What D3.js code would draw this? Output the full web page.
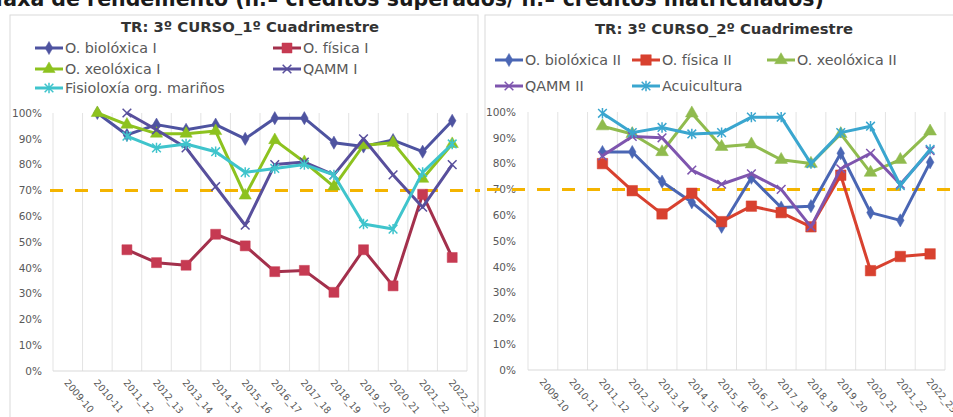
<!DOCTYPE html>
<html><head><meta charset="utf-8">
<script src="https://cdn.jsdelivr.net/npm/d3@7"></script>
<style>
body{margin:0;background:#fff;}
svg{display:block;font-family:"DejaVu Sans",sans-serif;}
</style></head>
<body><svg id="c" width="953" height="417"></svg>
<script>
const categories = ["2009-10","2010-11","2011_12","2012_13","2013_14","2014_15","2015_16","2016_17","2017_18","2018_19","2019_20","2020_21","2021_22","2022_23"];
const yTicks = [0,10,20,30,40,50,60,70,80,90,100];
const threshold = 70;

// Panel 1: 1º Cuadrimestre
const title1 = "TR: 3º CURSO_1º Cuadrimestre";
const bio1   = [null,100,91.5,95.5,93.5,95.5,90,98,98,88.5,87,89.5,85,97];
const fis1   = [null,null,47,42,41,53,48.5,38.5,39,30.5,47,33,68.5,44];
const xeo1   = [null,100,95.5,92,92,93,68,89.5,81,71.5,87.5,88.5,74.5,88];
const qamm1  = [null,null,100,93.5,86.5,71.5,56.5,80,81,76,90,76,63.5,80];
const fisio1 = [null,null,91,86.5,88,85,77,78.5,80,76,57,55,77,88];

// Panel 2: 2º Cuadrimestre
const title2 = "TR: 3º CURSO_2º Cuadrimestre";
const bio2  = [null,null,84.5,84.5,73,65,55.5,74.5,63,63.5,84,61,58,80.5];
const fis2  = [null,null,80,69.5,60.5,68.5,57.5,63.5,61,55.5,75.5,38.5,44,45];
const xeo2  = [null,null,94.5,91.5,84.5,99.5,86.5,87.5,81.5,80,91.5,76.5,81.5,92.5];
const qamm2 = [null,null,83,90.5,90,77.5,72,76,70,55.5,78,84,72,85];
const acui  = [null,null,99.5,92,94,91.5,92,98,98,80,92,94.5,71.5,85.5];

const headText = "Taxa de rendemento (n.º créditos superados/ n.º créditos matriculados)";

// custom marker shapes
const symTimes = {draw(ctx,size){const r=Math.sqrt(size)/2;ctx.moveTo(-r,-r);ctx.lineTo(r,r);ctx.moveTo(r,-r);ctx.lineTo(-r,r);}};
const symAst = {draw(ctx,size){const r=Math.sqrt(size)/2;ctx.moveTo(-r,-r);ctx.lineTo(r,r);ctx.moveTo(r,-r);ctx.lineTo(-r,r);ctx.moveTo(0,-r*1.2);ctx.lineTo(0,r*1.2);}};

const panels = [
  {title:title1, box:[10,15,468,410], plot:{x0:53,x1:467,y0:371,y1:113}, tickRight:42, titleXY:[250,32], dash:[50,480],
   series:[
     {name:"O. biolóxica I", data:bio1, color:"#4E53A0", fill:"#4E53A0", sym:d3.symbolDiamond, size:50, stroke:false, leg:[35,48]},
     {name:"O. física I", data:fis1, color:"#A3304C", fill:"#C63A52", sym:d3.symbolSquare, size:100, stroke:false, leg:[273,48]},
     {name:"O. xeolóxica I", data:xeo1, color:"#8DC21F", fill:"#8DC21F", sym:d3.symbolTriangle, size:65, stroke:false, leg:[35,69]},
     {name:"QAMM I", data:qamm1, color:"#584F9C", fill:"none", sym:symTimes, size:75, stroke:true, leg:[273,69]},
     {name:"Fisioloxía org. mariños", data:fisio1, color:"#3FC4CC", fill:"none", sym:symAst, size:75, stroke:true, leg:[35,88]}
   ]},
  {title:title2, box:[485,15,470,410], plot:{x0:528,x1:945,y0:370,y1:112}, tickRight:516, titleXY:[724,34], dash:[487,953],
   series:[
     {name:"O. biolóxica II", data:bio2, color:"#4A66B4", fill:"#4A66B4", sym:d3.symbolDiamond, size:50, stroke:false, leg:[495,60]},
     {name:"O. física II", data:fis2, color:"#D8412F", fill:"#D8412F", sym:d3.symbolSquare, size:110, stroke:false, leg:[632,60]},
     {name:"O. xeolóxica II", data:xeo2, color:"#90BB4E", fill:"#90BB4E", sym:d3.symbolTriangle, size:70, stroke:false, leg:[767,60]},
     {name:"QAMM II", data:qamm2, color:"#7E55AE", fill:"none", sym:symTimes, size:75, stroke:true, leg:[495,86]},
     {name:"Acuicultura", data:acui, color:"#3AA6CF", fill:"none", sym:symAst, size:75, stroke:true, leg:[632,86]}
   ]}
];

const svg = d3.select("#c");

// cut-off heading at the very top
svg.append("text").attr("x",-8).attr("y",6).attr("font-size",20.5).attr("font-weight","bold")
  .attr("fill","#1a1a1a").text(headText);

panels.forEach(p=>{
  const g = svg.append("g");
  g.append("rect").attr("x",p.box[0]).attr("y",p.box[1]).attr("width",p.box[2]).attr("height",p.box[3])
    .attr("fill","#fff").attr("stroke","#D9D9D9").attr("stroke-width",1);

  const x = d3.scaleBand().domain(categories).range([p.plot.x0,p.plot.x1]).padding(0);
  const y = d3.scaleLinear().domain([0,100]).range([p.plot.y0,p.plot.y1]);

  // vertical gridlines at category boundaries
  const bounds = categories.map(c=>x(c)).concat([x(categories[categories.length-1])+x.bandwidth()]);
  g.selectAll(".vg").data(bounds).join("line")
    .attr("x1",d=>d).attr("x2",d=>d).attr("y1",y(100)).attr("y2",y(0))
    .attr("stroke","#E3E3E3").attr("stroke-width",1);

  // x axis baseline
  g.append("line").attr("x1",p.plot.x0).attr("x2",p.plot.x1).attr("y1",y(0)).attr("y2",y(0))
    .attr("stroke","#D9D9D9").attr("stroke-width",1);

  // y axis
  const ya = g.append("g").attr("transform",`translate(${p.tickRight},0)`)
    .call(d3.axisLeft(y).tickValues(yTicks).tickSize(0).tickPadding(0).tickFormat(d=>d+"%"));
  ya.select(".domain").remove();
  ya.selectAll("text").attr("font-size",10.5).attr("fill","#595959").attr("font-family","DejaVu Sans,sans-serif");

  // x axis labels
  const xa = g.append("g").attr("transform",`translate(0,${y(0)})`)
    .call(d3.axisBottom(x).tickSize(0).tickPadding(0));
  xa.select(".domain").remove();
  xa.selectAll("text").attr("font-size",9.5).attr("fill","#595959")
    .attr("font-family","DejaVu Sans,sans-serif")
    .attr("text-anchor","start").attr("dy",0)
    .attr("transform","translate(-4,12) rotate(50)");

  // threshold dashed line
  g.append("line").attr("x1",p.dash[0]).attr("x2",p.dash[1]).attr("y1",y(threshold)).attr("y2",y(threshold))
    .attr("stroke","#F4B400").attr("stroke-width",3).attr("stroke-dasharray","13,12");

  // series
  const cx = i=>x(categories[i])+x.bandwidth()/2;
  p.series.forEach(s=>{
    const pts = s.data.map((v,i)=>({i,v})).filter(d=>d.v!=null);
    const line = d3.line().x(d=>cx(d.i)).y(d=>y(d.v));
    g.append("path").datum(pts).attr("d",line).attr("fill","none")
      .attr("stroke",s.color).attr("stroke-width",3).attr("stroke-linejoin","round");
    const sym = d3.symbol().type(s.sym).size(s.size);
    g.selectAll(null).data(pts).join("path")
      .attr("d",sym).attr("transform",d=>`translate(${cx(d.i)},${y(d.v)})`)
      .attr("fill",s.stroke?"none":s.fill).attr("stroke",s.stroke?s.color:(s.fill))
      .attr("stroke-width",s.stroke?1.5:0.5);
  });

  // title
  g.append("text").attr("x",p.titleXY[0]).attr("y",p.titleXY[1]).attr("text-anchor","middle")
    .attr("font-size",14.8).attr("font-weight","bold").attr("fill","#333").text(p.title);

  // legend
  p.series.forEach(s=>{
    const lg = g.append("g").attr("transform",`translate(${s.leg[0]},${s.leg[1]})`);
    lg.append("line").attr("x1",0).attr("x2",28).attr("y1",0).attr("y2",0).attr("stroke",s.color).attr("stroke-width",3);
    lg.append("path").attr("d",d3.symbol().type(s.sym).size(s.size)).attr("transform","translate(14,0)")
      .attr("fill",s.stroke?"none":s.fill).attr("stroke",s.stroke?s.color:s.fill).attr("stroke-width",s.stroke?1.5:0.5);
    lg.append("text").attr("x",30).attr("y",0).attr("dy","0.35em").attr("font-size",14.3)
      .attr("fill","#595959").text(s.name);
  });
});
</script></body></html>
